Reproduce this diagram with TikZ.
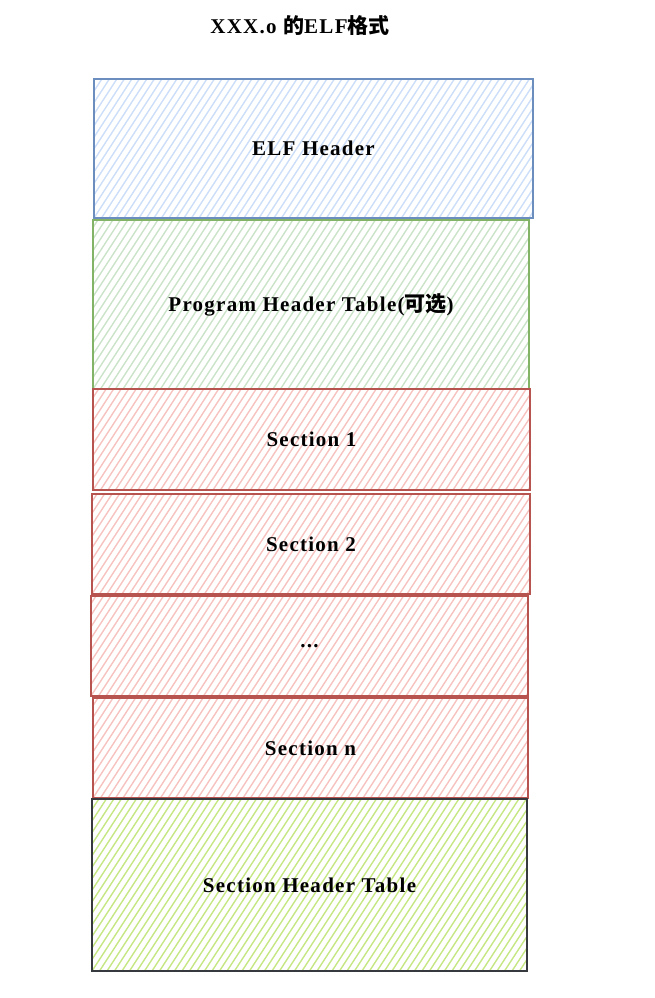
\documentclass[tikz,border=0pt]{standalone}
\usepackage{fontspec}
\setmainfont{Liberation Serif}[LetterSpace=6]
\newfontfamily\cjk{Noto Sans CJK SC}
\usetikzlibrary{calc}
\definecolor{blueS}{HTML}{6C8EBF}
\definecolor{blueF}{HTML}{CCDEF8}
\definecolor{greenS}{HTML}{82B366}
\definecolor{greenF}{HTML}{CBE3C9}
\definecolor{redS}{HTML}{B85450}
\definecolor{redF}{HTML}{F6C3C0}
\definecolor{darkS}{HTML}{36393D}
\definecolor{limeF}{HTML}{C6E784}
\tikzset{
  layer/.style 2 args={draw=#1, line width=1.8pt, inner sep=0pt,
    path picture={\foreach \i in {-40,...,80}{\draw[#2, line width=1.4pt]
      ($(path picture bounding box.south west)+(\i*7.5,0)$) -- ++(260,-400);}},
    font=\bfseries\fontsize{21}{24}\selectfont},
  ttl/.style={font=\bfseries\fontsize{21}{24}\selectfont}
}
\begin{document}
\begin{tikzpicture}[x=1pt,y=-1pt]
\useasboundingbox (0,0) rectangle (654,998);
\node[ttl] (title) at (300,25) {XXX.o {\cjk 的}ELF{\cjk 格式}};
\node[layer={blueS}{blueF}, minimum width=439pt, minimum height=139pt] (eh) at (313.5,148.5) {ELF Header};
\node[layer={greenS}{greenF}, minimum width=436pt, minimum height=169pt] (pht) at (311,304.5) {Program Header Table({\cjk 可选})};
\node[layer={redS}{redF}, minimum width=437pt, minimum height=101pt] (s1) at (311.5,439.5) {Section 1};
\node[layer={redS}{redF}, minimum width=438pt, minimum height=100pt] (s2) at (311,544) {Section 2};
\node[layer={redS}{redF}, minimum width=437pt, minimum height=100pt] (dots) at (309.5,646) {...};
\node[layer={redS}{redF}, minimum width=435pt, minimum height=100pt] (sn) at (310.5,748) {Section n};
\node[layer={darkS}{limeF}, minimum width=435pt, minimum height=172pt] (sht) at (309.5,885) {Section Header Table};
\end{tikzpicture}
\end{document}
